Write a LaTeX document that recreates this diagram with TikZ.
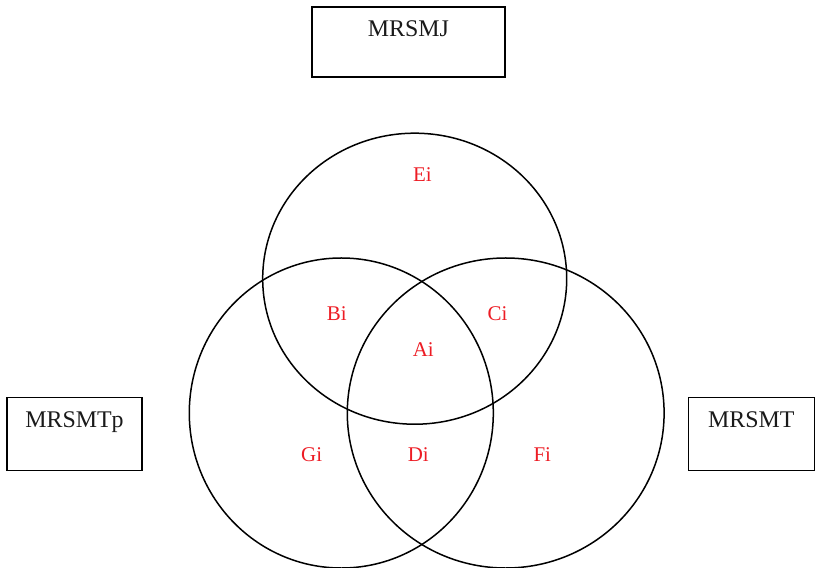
\documentclass[tikz,border=0pt]{standalone}
\usepackage{fontspec}
\setmainfont{Liberation Serif}
\usetikzlibrary{positioning}
\definecolor{vnRed}{HTML}{ED1C24}
\definecolor{vnInk}{HTML}{1A1A1A}
\begin{document}
\begin{tikzpicture}[x=0.5bp, y=-0.5bp,
  setbox/.style={draw=black, line width=0.8bp, inner sep=0pt, minimum width=#1, text height=15bp, text depth=20bp, font=\fontsize{12}{14}\selectfont, text=vnInk, anchor=north},
  ring/.style={draw=black, line width=0.75bp},
  zone/.style={anchor=base, inner sep=0pt, font=\fontsize{10.5}{12}\selectfont, text=vnRed}]
\useasboundingbox (0,0) rectangle (815,568);
% sets
\node[setbox=96.5bp] (mj) at (408.4,6) {MRSMJ};
\node[setbox=67.2bp, text depth=21.5bp] (mtp) at (74.5,396.5) {MRSMTp};
\node[setbox=63bp, text depth=21.5bp] (mt) at (751.4,396.5) {MRSMT};
% venn rings
\coordinate (cJ) at (414.7,278.7);
\coordinate (cTp) at (341.3,413);
\coordinate (cT) at (505.7,413);
\draw[ring] (cJ) ellipse [x radius=76bp, y radius=72.75bp];
\draw[ring] (cTp) ellipse [x radius=76bp, y radius=77.5bp];
\draw[ring] (cT) ellipse [x radius=79.2bp, y radius=77.5bp];
% zones
\node[zone] (ei) at (422.5,181.5) {Ei};
\node[zone] (bi) at (336.7,321) {Bi};
\node[zone] (ci) at (497.5,321) {Ci};
\node[zone] (ai) at (423.3,356) {Ai};
\node[zone] (gi) at (311.7,461) {Gi};
\node[zone] (di) at (418.3,461) {Di};
\node[zone] (fi) at (542.3,461) {Fi};
\end{tikzpicture}
\end{document}
